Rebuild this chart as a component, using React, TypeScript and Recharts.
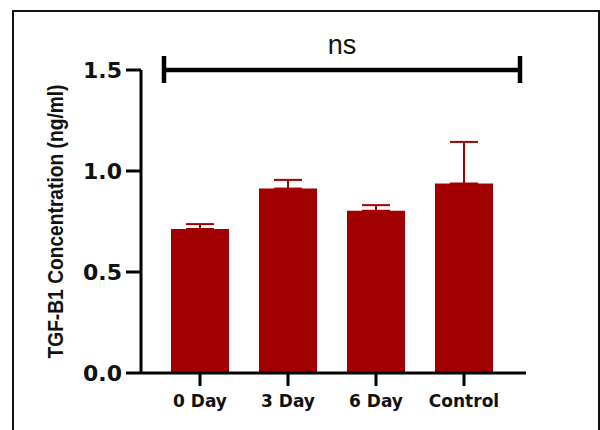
import { BarChart, Bar, XAxis, YAxis, ErrorBar, ReferenceLine } from "recharts";

const groups = ["0 Day", "3 Day", "6 Day", "Control"];
const means = [0.713, 0.913, 0.803, 0.938];
const upperErr = [0.024, 0.043, 0.028, 0.206];
const yTicks = [0, 0.5, 1.0, 1.5];
const sigLabel = "ns";

const data = groups.map((g, i) => ({
  group: g,
  value: means[i],
  err: [0, upperErr[i]],
}));

const BAR_RED = "#a10000";

function XTick({ x, y, payload }: any) {
  return (
    <text
      x={x}
      y={y + 19}
      textAnchor="middle"
      fill="#111"
      fontSize={17}
      fontWeight="bold"
      fontFamily="DejaVu Sans"
    >
      {payload.value}
    </text>
  );
}

function SigBracket({ x1, y1, x2 }: any) {
  const left = x1 + 23;
  const right = x2 - 6;
  const mid = (left + right) / 2;
  return (
    <g>
      <line x1={left} y1={y1} x2={right} y2={y1} stroke="#000" strokeWidth={4.5} />
      <line x1={left} y1={y1 - 14} x2={left} y2={y1 + 13} stroke="#000" strokeWidth={4.5} />
      <line x1={right} y1={y1 - 14} x2={right} y2={y1 + 13} stroke="#000" strokeWidth={4.5} />
      <text
        x={mid}
        y={y1 - 16}
        textAnchor="middle"
        fill="#111"
        fontSize={27}
        fontFamily="Liberation Sans"
      >
        {sigLabel}
      </text>
    </g>
  );
}

// condensed look of the original label: squeeze a bigger font into the same length
function YLabel({ viewBox }: any) {
  const cx = 63;
  const cy = viewBox.y + viewBox.height / 2;
  return (
    <text
      x={cx}
      y={cy}
      transform={`rotate(-90 ${cx} ${cy})`}
      textAnchor="middle"
      fill="#111"
      fontSize={22}
      fontWeight="bold"
      fontFamily="Liberation Sans"
      textLength={274}
      lengthAdjust="spacingAndGlyphs"
    >
      TGF-B1 Concentration (ng/ml)
    </text>
  );
}

export default function App() {
  return (
    <div
      style={{
        position: "absolute",
        left: 0,
        top: 0,
        width: 600,
        height: 430,
        overflow: "hidden",
        background: "#fff",
      }}
    >
      <div
        style={{
          position: "absolute",
          left: 12,
          top: 10,
          width: 588,
          height: 440,
          boxSizing: "border-box",
          border: "2px solid #111",
        }}
      />
      <div style={{ position: "absolute", left: 0, top: 0 }}>
        <BarChart
          width={600}
          height={430}
          data={data}
          margin={{ top: 70, right: 74, bottom: 17, left: 0 }}
        >
          <XAxis
            dataKey="group"
            height={40}
            padding={{ left: 15, right: 18 }}
            axisLine={{ stroke: "#000", strokeWidth: 3 }}
            tickLine={{ stroke: "#000", strokeWidth: 3 }}
            tickSize={13}
            tick={<XTick />}
            interval={0}
          />
          <YAxis
            width={141}
            domain={[0, 1.5]}
            ticks={yTicks}
            tickFormatter={(v: number) => v.toFixed(1)}
            axisLine={{ stroke: "#000", strokeWidth: 3 }}
            tickLine={{ stroke: "#000", strokeWidth: 3 }}
            tickSize={15}
            tickMargin={4}
            tick={{ fill: "#111", fontSize: 22, fontWeight: "bold", fontFamily: "DejaVu Sans" }}
            label={<YLabel />}
          />
          <ReferenceLine y={1.5} shape={<SigBracket />} />
          <Bar dataKey="value" fill={BAR_RED} barSize={58} isAnimationActive={false}>
            <ErrorBar dataKey="err" width={14} stroke={BAR_RED} strokeWidth={2} isAnimationActive={false} />
          </Bar>
        </BarChart>
      </div>
    </div>
  );
}
